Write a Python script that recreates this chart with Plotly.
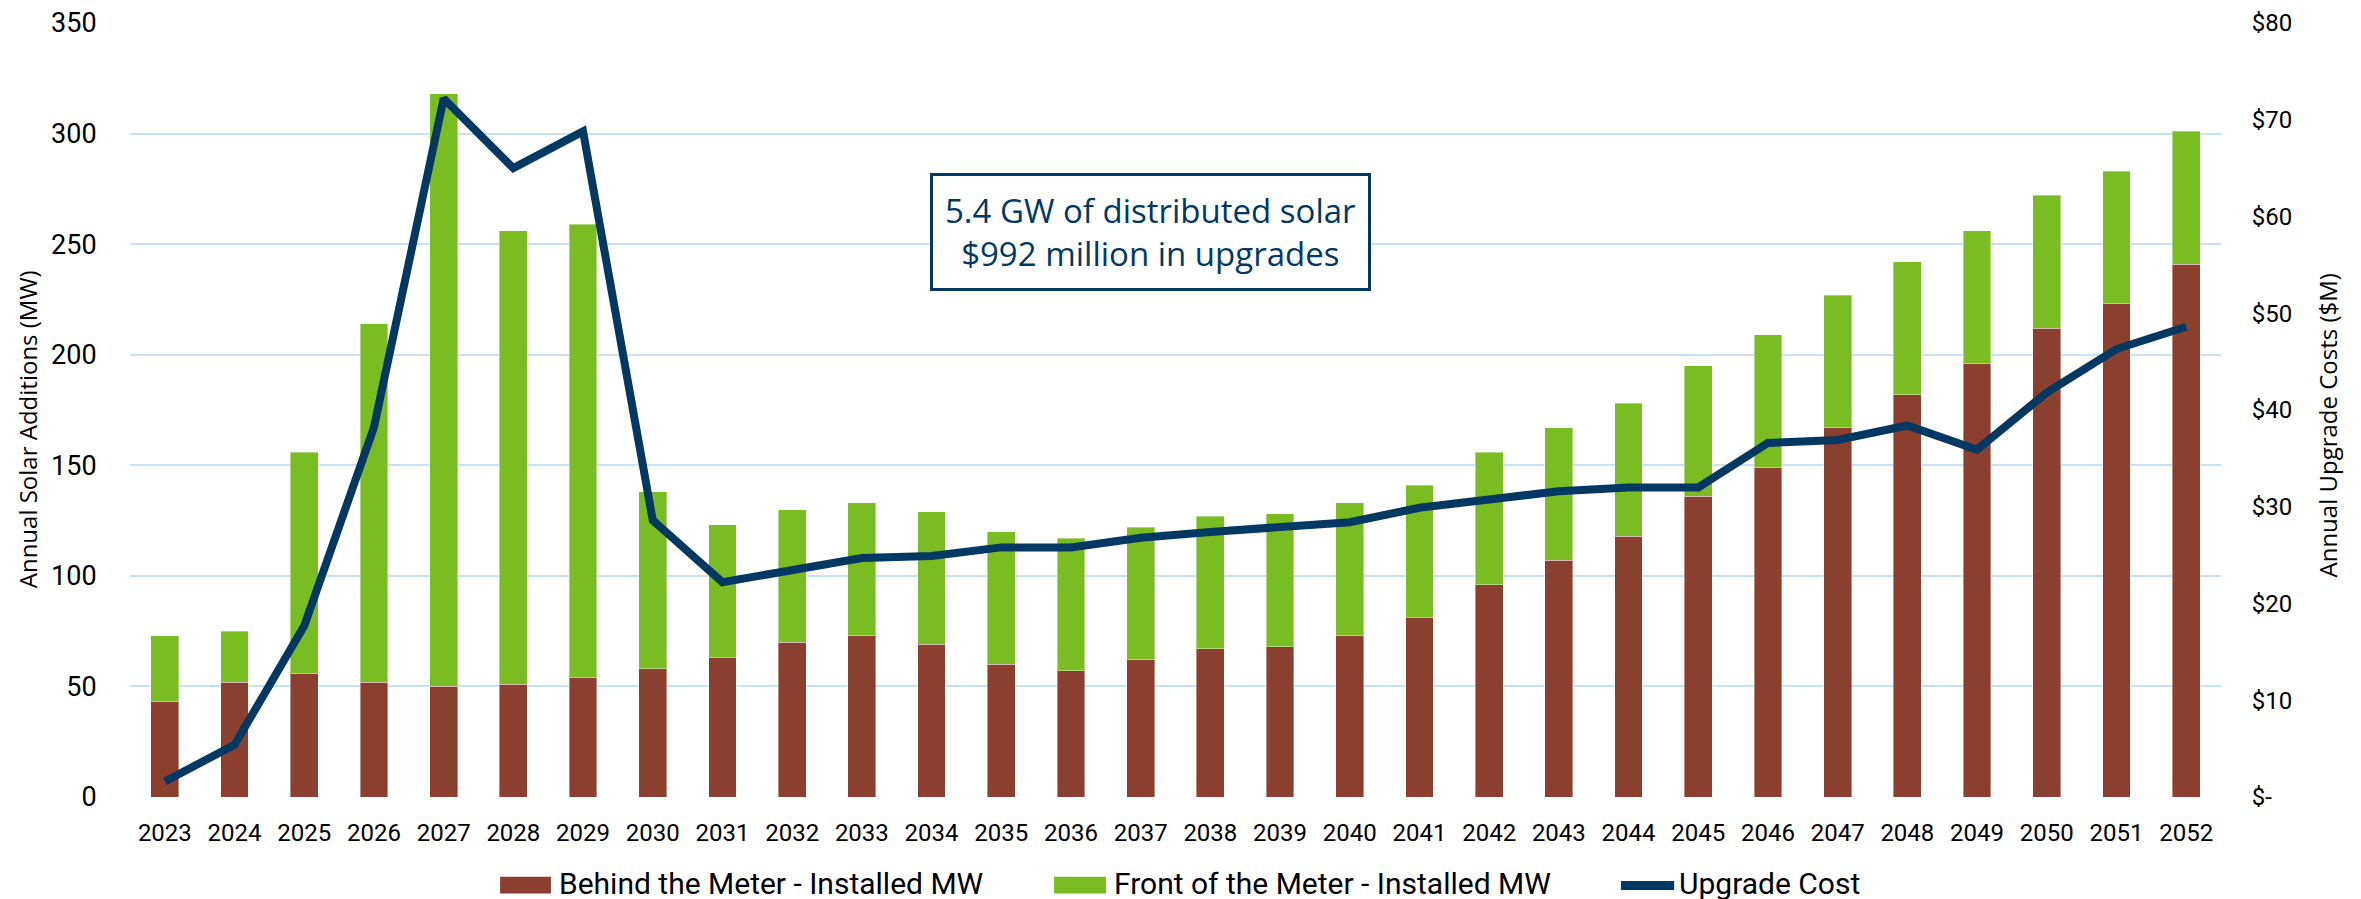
import plotly.graph_objects as go

years = [str(y) for y in range(2023, 2053)]
behind_meter = [43, 52, 56, 52, 50, 51, 54, 58, 63, 70, 73, 69, 60, 57, 62, 67, 68, 73, 81, 96,
                107, 118, 136, 149, 167, 182, 196, 212, 223, 241]
front_meter = [30, 23, 100, 162, 268, 205, 205, 80, 60, 60, 60, 60, 60, 60, 60, 60, 60, 60, 60, 60,
               60, 60, 59, 60, 60, 60, 60, 60, 60, 60]
upgrade_cost = [1.6, 5.4, 17.7, 38.2, 72.2, 65.0, 68.8, 28.6, 22.2, 23.4, 24.7, 24.9, 25.8, 25.8, 26.8,
                27.4, 27.8, 28.4, 29.9, 30.7, 31.6, 32.0, 32.0, 36.6, 36.9, 38.4, 35.9, 41.8, 46.3, 48.6]
cost_ticks = [0, 10, 20, 30, 40, 50, 60, 70, 80]
cost_labels = ["$-", "$10", "$20", "$30", "$40", "$50", "$60", "$70", "$80"]
series_names = ["Behind the Meter - Installed MW", "Front of the Meter - Installed MW", "Upgrade Cost"]

BROWN = "rgb(139,63,46)"
GREEN = "rgb(122,189,34)"
NAVY = "rgb(3,56,99)"
GRID = "rgb(198,226,250)"
TICKFONT = "Roboto, Arial"
NOTICK = "rgba(0,0,0,0)"

fig = go.Figure()
fig.add_trace(go.Bar(x=years, y=behind_meter, name=series_names[0],
                     marker=dict(color=BROWN, line=dict(color="rgba(255,255,255,0.4)", width=1))))
fig.add_trace(go.Bar(x=years, y=front_meter, name=series_names[1],
                     marker=dict(color=GREEN, line=dict(color="rgba(255,255,255,0.4)", width=1))))
fig.add_trace(go.Scatter(x=years, y=upgrade_cost, name=series_names[2], yaxis="y2",
                         mode="lines", line=dict(color=NAVY, width=8)))

# text box
fig.add_annotation(text="5.4 GW of distributed solar<br>$992 million in upgrades",
                   xref="paper", yref="paper", x=0.488, y=0.73, xanchor="center", yanchor="middle",
                   showarrow=False, font=dict(family="Open Sans", size=33, color=NAVY),
                   bordercolor=NAVY, borderwidth=3, borderpad=12, bgcolor="white")
# axis titles
fig.add_annotation(text="Annual Solar Additions (MW)", xref="paper", yref="paper",
                   x=-0.0493, y=0.475, xanchor="center", yanchor="middle", textangle=-90,
                   showarrow=False, font=dict(family="Open Sans", size=24, color="black"))
fig.add_annotation(text="Annual Upgrade Costs ($M)", xref="paper", yref="paper",
                   x=1.0507, y=0.48, xanchor="center", yanchor="middle", textangle=-90,
                   showarrow=False, font=dict(family="Open Sans", size=24, color="black"))

# legend drawn by hand (wide swatches like the original)
leg_y0, leg_y1, leg_text_y = -0.1248, -0.1030, -0.1120
fig.add_shape(type="rect", xref="paper", yref="paper", x0=0.1770, x1=0.2013, y0=leg_y0, y1=leg_y1,
              fillcolor=BROWN, line_width=0)
fig.add_shape(type="rect", xref="paper", yref="paper", x0=0.4419, x1=0.4668, y0=leg_y0, y1=leg_y1,
              fillcolor=GREEN, line_width=0)
fig.add_shape(type="line", xref="paper", yref="paper", x0=0.7130, x1=0.7385, y0=-0.1145, y1=-0.1145,
              line=dict(color=NAVY, width=9))
for name, tx in zip(series_names, [0.2040, 0.4694, 0.7400]):
    fig.add_annotation(text=name, xref="paper", yref="paper", x=tx, y=leg_text_y,
                       xanchor="left", yanchor="middle", showarrow=False,
                       font=dict(family=TICKFONT, size=30, color="black"))

fig.update_layout(
    width=2361, height=899,
    paper_bgcolor="white", plot_bgcolor="white",
    margin=dict(l=122, r=148, t=15, b=110, autoexpand=False),
    barmode="stack", bargap=0.6,
    showlegend=False,
    xaxis=dict(tickfont=dict(family=TICKFONT, size=24, color="black"), showgrid=False,
               showline=False, ticks="outside", ticklen=14, tickcolor=NOTICK, automargin=False),
    yaxis=dict(range=[0, 350], dtick=50, gridcolor=GRID, gridwidth=2, zeroline=False,
               ticks="outside", ticklen=27, tickcolor=NOTICK, automargin=False,
               ticklabeloverflow="allow",
               tickfont=dict(family=TICKFONT, size=27, color="black")),
    yaxis2=dict(range=[0, 80], overlaying="y", side="right", showgrid=False, zeroline=False,
                tickvals=cost_ticks, ticktext=cost_labels, automargin=False,
                ticks="outside", ticklen=25, tickcolor=NOTICK, ticklabeloverflow="allow",
                tickfont=dict(family=TICKFONT, size=24, color="black")),
)

fig.write_html("out.html")
